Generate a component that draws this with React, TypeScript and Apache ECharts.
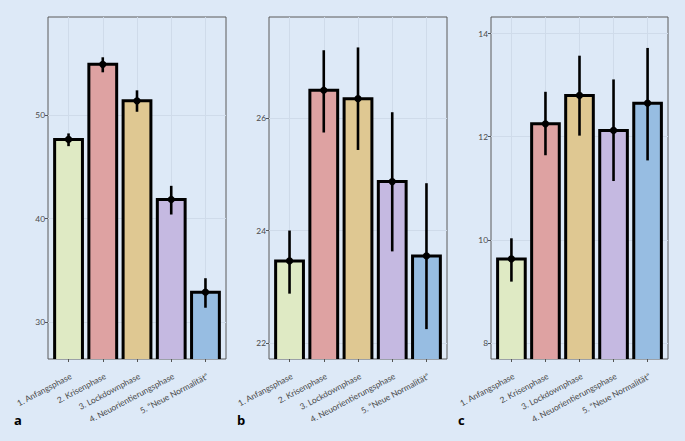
import React, { useEffect, useRef } from "react";
import * as echarts from "echarts";

const categories = [
  "1. Anfangsphase",
  "2. Krisenphase",
  "3. Lockdownphase",
  "4. Neuorientierungsphase",
  "5. “Neue Normalität“",
];

const meansA = [47.65, 54.9, 51.38, 41.85, 32.9];
const lowA = [47.0, 54.13, 50.32, 40.4, 31.4];
const highA = [48.23, 55.58, 52.39, 43.17, 34.25];

const meansB = [23.46, 26.49, 26.34, 24.87, 23.55];
const lowB = [22.88, 25.74, 25.43, 23.63, 22.25];
const highB = [24.0, 27.2, 27.25, 26.1, 24.84];

const meansC = [9.63, 12.25, 12.8, 12.12, 12.65];
const lowC = [9.19, 11.64, 12.02, 11.14, 11.54];
const highC = [10.03, 12.87, 13.57, 13.11, 13.72];

const yTicksA = [30, 40, 50];
const yTicksB = [22, 24, 26];
const yTicksC = [8, 10, 12, 14];

const yRangeA = [26.45, 59.47];
const yRangeB = [21.72, 27.79];
const yRangeC = [7.69, 14.32];

const panelLetters = ["a", "b", "c"];

const barColors = ["#dfeac4", "#dea2a2", "#dfc892", "#c5b9e1", "#97bde2"];

const BG = "#dde9f7";
const GRID_LINE = "#cfdbea";
const TEXT = "#4a4a4a";

export default function App() {
  const ref = useRef<HTMLDivElement>(null);

  useEffect(() => {
    if (!ref.current) return;
    const chart = echarts.init(ref.current, undefined, { renderer: "svg" });

    const grids = [
      { left: 48, top: 17, width: 178, height: 342 },
      { left: 269, top: 17, width: 178, height: 342 },
      { left: 491, top: 17, width: 177, height: 342 },
    ];
    const panels = [
      { means: meansA, low: lowA, high: highA, ticks: yTicksA, range: yRangeA },
      { means: meansB, low: lowB, high: highB, ticks: yTicksB, range: yRangeB },
      { means: meansC, low: lowC, high: highC, ticks: yTicksC, range: yRangeC },
    ];

    const renderBars = (params: any, api: any) => {
      const x = api.value(0);
      const mean = api.value(1);
      const lo = api.value(2);
      const hi = api.value(3);
      const idx = params.dataIndex;
      const cs = params.coordSys;
      const pLeft = api.coord([x - 0.45, mean]);
      const pRight = api.coord([x + 0.45, mean]);
      const lw = 3;
      const w = pRight[0] - pLeft[0] - lw;
      const bottom = cs.y + cs.height + 10;
      const pLo = api.coord([x, lo]);
      const pHi = api.coord([x, hi]);
      const pM = api.coord([x, mean]);
      return {
        type: "group",
        children: [
          {
            type: "rect",
            shape: {
              x: pLeft[0] + lw / 2,
              y: pLeft[1],
              width: w,
              height: bottom - pLeft[1],
            },
            style: { fill: barColors[idx], stroke: "#000", lineWidth: lw },
          },
          {
            type: "line",
            shape: { x1: pLo[0], y1: pLo[1], x2: pHi[0], y2: pHi[1] },
            style: { stroke: "#000", lineWidth: 2.6 },
          },
          {
            type: "circle",
            shape: { cx: pM[0], cy: pM[1], r: 3.6 },
            style: { fill: "#000" },
          },
        ],
      };
    };

    const renderLabels = (params: any, api: any) => {
      const x = api.value(0);
      const cs = params.coordSys;
      const p = api.coord([x, api.value(1)]);
      return {
        type: "text",
        x: p[0] + 0.5,
        y: cs.y + cs.height + 13,
        rotation: (28 * Math.PI) / 180,
        style: {
          text: categories[params.dataIndex],
          align: "right",
          verticalAlign: "top",
          fontSize: 8.4,
          fontFamily: "Lato",
          fill: TEXT,
        },
      };
    };

    const barSeries = panels.map((p, i) => ({
      type: "custom",
      xAxisIndex: i,
      yAxisIndex: i,
      clip: true,
      renderItem: renderBars,
      encode: { x: 0, y: 1 },
      data: p.means.map((m, j) => [j + 1, m, p.low[j], p.high[j]]),
    }));
    const labelSeries = panels.map((p, i) => ({
      type: "custom",
      xAxisIndex: i,
      yAxisIndex: i,
      clip: false,
      silent: true,
      renderItem: renderLabels,
      encode: { x: 0, y: 1 },
      data: categories.map((_, j) => [j + 1, p.range[0]]),
    }));

    const option: any = {
      animation: false,
      backgroundColor: BG,
      grid: grids.map((g) => ({
        ...g,
        show: true,
        backgroundColor: "transparent",
        borderColor: "#5a5a5a",
        borderWidth: 1,
        containLabel: false,
      })),
      xAxis: panels.map((_, i) => ({
        type: "value",
        gridIndex: i,
        min: 0.4,
        max: 5.6,
        axisLine: { show: false },
        axisTick: {
          show: true,
          customValues: [1, 2, 3, 4, 5],
          length: 3,
          lineStyle: { color: "#555", width: 1 },
        },
        axisLabel: { show: false },
        splitLine: { show: true, lineStyle: { color: GRID_LINE, width: 1 } },
      })),
      yAxis: panels.map((p, i) => ({
        type: "value",
        gridIndex: i,
        min: p.range[0],
        max: p.range[1],
        axisLine: { show: false },
        axisTick: {
          show: true,
          customValues: p.ticks,
          length: 3,
          lineStyle: { color: "#555", width: 1 },
        },
        axisLabel: {
          customValues: p.ticks,
          fontSize: 8.4,
          color: TEXT,
          margin: 3,
          fontFamily: "Lato",
        },
        splitLine: { show: true, lineStyle: { color: GRID_LINE, width: 1 } },
      })),
      series: [...barSeries, ...labelSeries],
      graphic: [
        { type: "text", left: 14, top: 413, style: { text: panelLetters[0], font: "bold 13px Open Sans", fill: "#000" } },
        { type: "text", left: 237, top: 413, style: { text: panelLetters[1], font: "bold 13px Open Sans", fill: "#000" } },
        { type: "text", left: 458, top: 413, style: { text: panelLetters[2], font: "bold 13px Open Sans", fill: "#000" } },
      ],
    };

    chart.setOption(option);
    return () => chart.dispose();
  }, []);

  return (
    <div
      ref={ref}
      style={{ position: "fixed", left: 0, top: 0, width: 685, height: 441 }}
    />
  );
}
